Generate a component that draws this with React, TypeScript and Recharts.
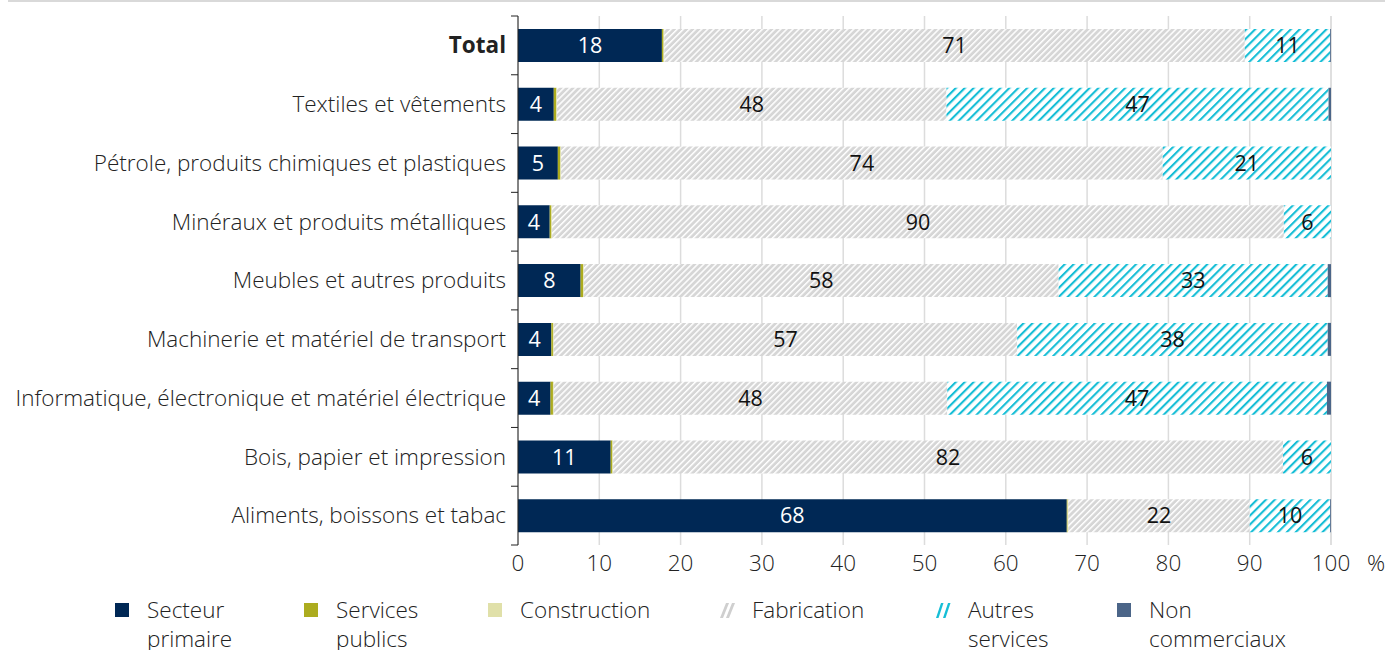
import React from "react";
import {
  BarChart,
  Bar,
  XAxis,
  YAxis,
  CartesianGrid,
  LabelList,
} from "recharts";

const categories = [
  "Total",
  "Textiles et vêtements",
  "Pétrole, produits chimiques et plastiques",
  "Minéraux et produits métalliques",
  "Meubles et autres produits",
  "Machinerie et matériel de transport",
  "Informatique, électronique et matériel électrique",
  "Bois, papier et impression",
  "Aliments, boissons et tabac",
];

const secteurPrimaire = [17.7, 4.4, 4.9, 3.9, 7.7, 4.1, 4.0, 11.4, 67.5];
const servicesPublics = [0.2, 0.3, 0.3, 0.2, 0.3, 0.2, 0.3, 0.2, 0.1];
const construction = [0.1, 0.1, 0.1, 0.1, 0.1, 0.1, 0.1, 0.1, 0.1];
const fabrication = [71.4, 47.9, 74.0, 90.0, 58.4, 57.0, 48.4, 82.4, 22.3];
const autresServices = [10.5, 47.0, 20.7, 5.8, 33.1, 38.2, 46.7, 5.9, 9.9];
const nonCommerciaux = [0.1, 0.3, 0.0, 0.0, 0.4, 0.4, 0.5, 0.0, 0.1];

const xTicks = [0, 10, 20, 30, 40, 50, 60, 70, 80, 90, 100];

const seriesKeys = ["primaire", "publics", "construction", "fabrication", "autres", "non"];
const seriesNames = [
  ["Secteur", "primaire"],
  ["Services", "publics"],
  ["Construction"],
  ["Fabrication"],
  ["Autres", "services"],
  ["Non", "commerciaux"],
];

const data = categories.map((c, i) => ({
  name: c,
  primaire: secteurPrimaire[i],
  publics: servicesPublics[i],
  construction: construction[i],
  fabrication: fabrication[i],
  autres: autresServices[i],
  non: nonCommerciaux[i],
}));

const NAVY = "#002855";
const OLIVE = "#acac1f";
const CONSTR = "#e0e0a9";
const GREY = "#d6d6d6";
const CYAN = "#16bed6";
const SLATE = "#4b6588";
const TEXT = "#222";
const FONT = "'Open Sans', sans-serif";
const FS = 22.5;

const fills = [NAVY, OLIVE, CONSTR, "url(#fabPat)", "url(#autPat)", SLATE];

const YTick = (props: any) => {
  const { x, y, payload, index, visibleTicksCount } = props;
  const half = payload && typeof payload.offset === "number" && payload.offset > 0 ? payload.offset : 29.4;
  const isTotal = payload.value === "Total";
  const last = index === (visibleTicksCount ?? categories.length) - 1;
  return (
    <g>
      <line x1={x - 7} x2={x} y1={y - half} y2={y - half} stroke={TEXT} strokeWidth={1} />
      {last && <line x1={x - 7} x2={x} y1={y + half} y2={y + half} stroke={TEXT} strokeWidth={1} />}
      <text
        x={x - 12}
        y={y}
        dy="0.35em"
        textAnchor="end"
        fontSize={FS}
        fontFamily={FONT}
        fontWeight={isTotal ? 700 : 300}
        fill={TEXT}
      >
        {payload.value}
      </text>
    </g>
  );
};

const makeLabel = (color: string) => (props: any) => {
  const { x, y, width, height, value } = props;
  if (value == null || value < 3) return null;
  return (
    <text
      x={x + width / 2}
      y={y + height / 2}
      dy="0.36em"
      textAnchor="middle"
      fontSize={21.5}
      fontFamily={FONT}
      fill={color}
    >
      {Math.round(value)}
    </text>
  );
};

const legendLeft = [115, 304, 488, 720, 936, 1117];

const LegendMarker = ({ i }: { i: number }) => {
  if (i === 3) {
    return (
      <svg width={15} height={15} style={{ position: "absolute", left: 0, top: 8 }}>
        <polygon points="0,15 6,0 9,0 3,15" fill="#cfcfcf" />
        <polygon points="6,15 12,0 15,0 9,15" fill="#cfcfcf" />
      </svg>
    );
  }
  if (i === 4) {
    return (
      <svg width={15} height={15} style={{ position: "absolute", left: 0, top: 8 }}>
        <polygon points="0,15 5,0 7.5,0 2.5,15" fill={CYAN} />
        <polygon points="7,15 12,0 14.5,0 9.5,15" fill={CYAN} />
      </svg>
    );
  }
  return (
    <div
      style={{
        position: "absolute",
        left: 0,
        top: 8,
        width: 14,
        height: 14,
        background: fills[i],
      }}
    />
  );
};

export default function App() {
  return (
    <div
      style={{
        position: "absolute",
        left: 0,
        top: 0,
        width: 1385,
        height: 650,
        background: "#fff",
        fontFamily: FONT,
      }}
    >
      <div
        style={{
          position: "absolute",
          left: 8,
          right: 0,
          top: 0,
          height: 2,
          background: "#d9d9d9",
        }}
      />
      <div style={{ position: "absolute", left: 0, top: 0 }}>
        <BarChart
          width={1385}
          height={582}
          data={data}
          layout="vertical"
          margin={{ top: 16, right: 54, bottom: 0, left: 0 }}
          barCategoryGap={0}
        >
          <defs>
            <pattern id="fabPat" width={4.3} height={4.3} patternUnits="userSpaceOnUse" patternTransform="rotate(45)">
              <rect width={4.3} height={4.3} fill={GREY} />
              <rect width={1.5} height={4.3} fill="#ffffff" />
            </pattern>
            <pattern id="autPat" width={6.3} height={6.3} patternUnits="userSpaceOnUse" patternTransform="rotate(45)">
              <rect width={6.3} height={6.3} fill="#ffffff" />
              <rect width={2.1} height={6.3} fill={CYAN} />
            </pattern>
          </defs>
          <CartesianGrid horizontal={false} stroke="#dcdcdc" strokeWidth={1.5} />
          <XAxis
            type="number"
            domain={[0, 100]}
            ticks={xTicks}
            axisLine={false}
            tickLine={false}
            tickMargin={4}
            height={37}
            interval={0}
            tick={{ fontSize: FS, fill: TEXT, fontFamily: FONT, fontWeight: 300 }}
            label={{ value: "%", position: "right", offset: 36, fontSize: FS, fill: TEXT, fontFamily: FONT, fontWeight: 300 }}
          />
          <YAxis
            type="category"
            dataKey="name"
            width={518}
            axisLine={{ stroke: TEXT, strokeWidth: 1 }}
            tickLine={false}
            tickSize={0}
            tickMargin={0}
            interval={0}
            tick={<YTick />}
          />
          {seriesKeys.map((k, i) => (
            <Bar
              key={k}
              dataKey={k}
              stackId="a"
              fill={fills[i]}
              barSize={33}
              isAnimationActive={false}
            >
              {i === 0 && <LabelList dataKey={k} content={makeLabel("#ffffff")} />}
              {(i === 3 || i === 4) && <LabelList dataKey={k} content={makeLabel("#111")} />}
            </Bar>
          ))}
        </BarChart>
      </div>
      {seriesNames.map((lines, i) => (
        <div
          key={i}
          style={{
            position: "absolute",
            left: legendLeft[i],
            top: 595,
            fontSize: FS,
            lineHeight: "29px",
            fontWeight: 300,
            color: TEXT,
          }}
        >
          <LegendMarker i={i} />
          <div style={{ marginLeft: 32, whiteSpace: "nowrap" }}>
            {lines.map((l, j) => (
              <div key={j}>{l}</div>
            ))}
          </div>
        </div>
      ))}
    </div>
  );
}
